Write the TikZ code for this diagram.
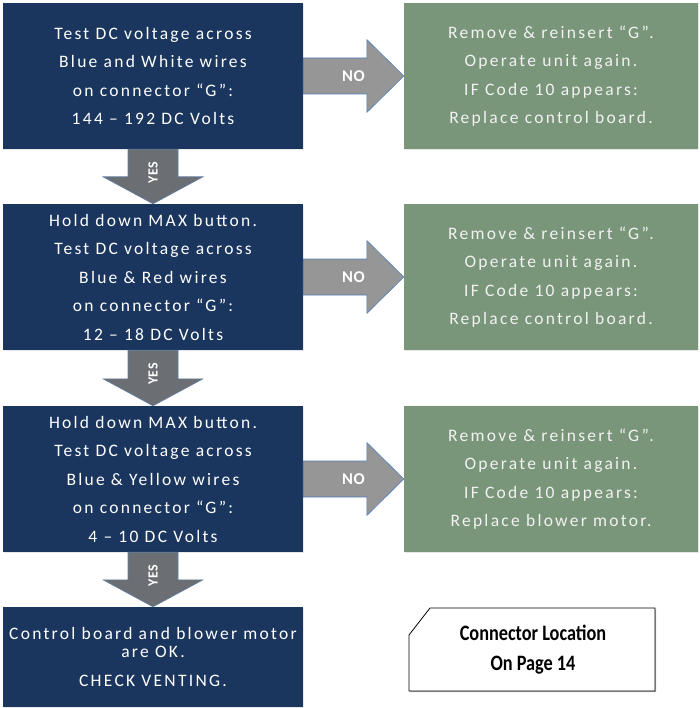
\documentclass[tikz,border=0pt]{standalone}
\usepackage{fontspec}
\setmainfont{Carlito}
\newfontfamily\boxfnt[LetterSpace=13]{Carlito}
\newfontfamily\lblfnt[LetterSpace=3]{Carlito}
\newfontfamily\condfnt[FakeStretch=0.83]{Carlito}
\usetikzlibrary{calc,shadows}
\definecolor{boxblue}{HTML}{1B365E}
\definecolor{boxgreen}{HTML}{7A967A}
\definecolor{noarrfill}{HTML}{969696}
\definecolor{yesarrfill}{HTML}{6B6E72}
\definecolor{arrline}{HTML}{4F81BD}
\definecolor{greentext}{HTML}{F2F2F2}
\begin{document}
\begin{tikzpicture}[x=1pt,y=-1pt,
  boxshadow/.style={drop shadow={shadow xshift=0.8pt,shadow yshift=-1pt,opacity=0.18,fill=gray}},
  bluebox/.style={boxshadow,fill=boxblue,draw=none,text=white,align=center,inner sep=0pt,
    minimum width=300pt,minimum height=146pt,font=\boxfnt\fontsize{17.5}{28.5}\selectfont},
  greenbox/.style={boxshadow,fill=boxgreen,draw=none,text=greentext,align=center,inner sep=0pt,
    minimum width=294pt,minimum height=146pt,font=\boxfnt\fontsize{17.5}{28.5}\selectfont},
  noarr/.style={fill=noarrfill,draw=arrline,line width=0.6pt,line join=miter},
  yesarr/.style={fill=yesarrfill,draw=arrline!60!gray,line width=0.6pt,line join=miter},
  nolabel/.style={text=white,font=\lblfnt\bfseries\fontsize{16.5}{18}\selectfont,inner sep=0pt},
  yeslabel/.style={text=white,font=\lblfnt\bfseries\fontsize{14}{16}\selectfont,inner sep=0pt,rotate=90},
  notebox/.style={text=black,align=center,font=\condfnt\bfseries\fontsize{22}{30}\selectfont,inner sep=0pt}
]
\useasboundingbox (0,0) rectangle (699,708);

% main boxes
\node[bluebox] (b1) at (153,76) {Test DC voltage across\\Blue and White wires\\on connector “G”:\\144 – 192 DC Volts};
\node[bluebox] (b2) at (153,277) {Hold down MAX button.\\Test DC voltage across\\Blue \& Red wires\\on connector “G”:\\12 – 18 DC Volts};
\node[bluebox] (b3) at (153,479) {Hold down MAX button.\\Test DC voltage across\\Blue \& Yellow wires\\on connector “G”:\\4 – 10 DC Volts};
\node[bluebox,minimum height=100pt] (b4) at (153,657) {Control board and blower motor\\[-10.5pt]are OK.\\CHECK VENTING.};

\node[greenbox] (g1) at (551,76) {Remove \& reinsert “G”.\\Operate unit again.\\IF Code 10 appears:\\Replace control board.};
\node[greenbox] (g2) at (551,277) {Remove \& reinsert “G”.\\Operate unit again.\\IF Code 10 appears:\\Replace control board.};
\node[greenbox] (g3) at (551,479) {Remove \& reinsert “G”.\\Operate unit again.\\IF Code 10 appears:\\Replace blower motor.};

% NO arrows
\foreach \a/\b in {b1/g1,b2/g2,b3/g3}{
  \draw[noarr] let \p1=(\a.east),\p2=(\b.west) in
    (\x1,\y1+18pt) -- (\x2-37pt,\y1+18pt) -- (\x2-37pt,\y1+36.5pt) -- (\x2,\y1)
    -- (\x2-37pt,\y1-36.5pt) -- (\x2-37pt,\y1-18pt) -- (\x1,\y1-18pt) -- cycle;
  \path let \p1=(\a.east),\p2=(\b.west) in
    node[nolabel] (\a no) at ({0.5*\x1+0.5*\x2},\y1) {NO};
}

% YES arrows
\foreach \a/\b in {b1/b2,b2/b3,b3/b4}{
  \draw[yesarr] let \p1=(\a.south),\p2=(\b.north) in
    (\x1-25pt,\y1) -- (\x1-25pt,\y2+27pt) -- (\x1-50pt,\y2+27pt) -- (\x2,\y2)
    -- (\x1+50pt,\y2+27pt) -- (\x1+25pt,\y2+27pt) -- (\x1+25pt,\y1) -- cycle;
  \path let \p1=(\a.south),\p2=(\b.north) in
    node[yeslabel] (\a yes) at (\x1,{0.5*\y1+0.5*\y2+4pt}) {YES};
}

% note box with cut corner
\coordinate (nA) at (409,635);
\coordinate (nB) at (430,608);
\coordinate (nC) at (655,608);
\coordinate (nD) at (655,691);
\coordinate (nE) at (409,691);
\fill[gray!60] ($(nB)+(1.2,1.2)$) -- ($(nC)+(1.2,1.2)$) -- ($(nD)+(1.2,1.2)$) -- ($(nE)+(1.2,1.2)$) -- ($(nA)+(1.2,1.2)$) -- cycle;
\draw[fill=white,line width=0.8pt] (nA) -- (nB) -- (nC) -- (nD) -- (nE) -- cycle;
\node[notebox] (note) at (533,650) {Connector Location\\On Page 14};
\end{tikzpicture}
\end{document}
